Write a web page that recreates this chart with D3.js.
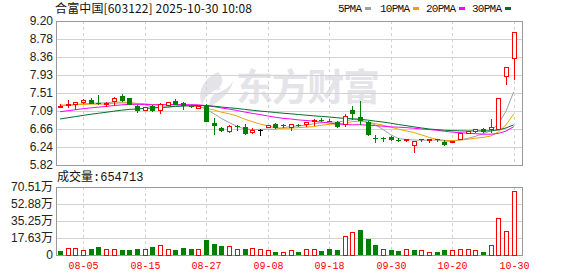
<!DOCTYPE html>
<html>
<head>
<meta charset="utf-8">
<script src="https://cdn.jsdelivr.net/npm/d3@7"></script>
<style>
  body { margin: 0; background: #fff; }
  svg { display: block; }
  .lab { font: 12px "Liberation Sans", Arial, sans-serif; fill: #222; }
  .mono { font-family: "Liberation Mono", "DejaVu Sans Mono", monospace; }
  .cjk { font-family: "Noto Sans CJK SC", sans-serif; }
</style>
</head>
<body>
<div id="chart"></div>
<script>
// trading days shown (07-31 .. 10-30)
const dates = ["07-31","08-01","08-04","08-05","08-06","08-07","08-08","08-11","08-12","08-13",
  "08-14","08-15","08-18","08-19","08-20","08-21","08-22","08-25","08-26","08-27",
  "08-28","08-29","09-01","09-02","09-03","09-04","09-05","09-08","09-09","09-10",
  "09-11","09-12","09-15","09-16","09-17","09-18","09-19","09-22","09-23","09-24",
  "09-25","09-26","09-29","09-30","10-09","10-10","10-13","10-14","10-15","10-16",
  "10-17","10-20","10-21","10-22","10-23","10-24","10-27","10-28","10-29","10-30"];

const opens  = [7.18,7.23,7.24,7.28,7.35,7.28,7.24,7.32,7.43,7.39,
  7.21,7.11,7.21,7.09,7.21,7.33,7.28,7.20,7.15,7.24,
  6.80,6.69,6.61,6.74,6.72,6.58,6.65,6.70,6.79,6.75,
  6.71,6.76,6.76,6.83,6.88,6.86,6.84,6.77,7.10,6.95,
  6.84,6.46,6.45,6.48,6.41,6.40,6.28,6.42,6.39,6.42,
  6.36,6.34,6.43,6.56,6.60,6.67,6.65,6.66,7.89,8.31];
const highs  = [7.26,7.34,7.31,7.38,7.39,7.46,7.30,7.41,7.48,7.40,
  7.22,7.19,7.22,7.28,7.29,7.36,7.29,7.21,7.19,7.25,
  6.92,6.72,6.76,6.76,6.79,6.70,6.66,6.76,6.80,6.79,
  6.77,6.78,6.83,6.89,6.93,6.91,6.85,7.02,7.21,7.32,
  6.86,6.52,6.48,6.49,6.45,6.44,6.38,6.44,6.43,6.43,
  6.40,6.38,6.57,6.61,6.66,6.68,6.91,7.37,8.11,8.92];
const lows   = [7.15,7.15,7.12,7.25,7.26,7.24,7.18,7.21,7.31,7.23,
  7.05,7.08,7.07,7.02,7.20,7.23,7.10,7.16,7.14,6.82,
  6.52,6.60,6.58,6.62,6.52,6.55,6.50,6.69,6.67,6.70,
  6.62,6.72,6.71,6.73,6.84,6.83,6.70,6.72,6.88,6.75,
  6.51,6.33,6.37,6.39,6.37,6.36,6.11,6.37,6.33,6.36,
  6.27,6.33,6.42,6.54,6.58,6.58,6.57,6.65,7.70,7.81];
const closes = [7.19,7.24,7.29,7.34,7.26,7.25,7.26,7.38,7.32,7.24,
  7.08,7.17,7.08,7.24,7.28,7.24,7.20,7.18,7.19,6.83,
  6.73,6.62,6.72,6.73,6.54,6.64,6.65,6.75,6.70,6.74,
  6.76,6.75,6.82,6.87,6.86,6.85,6.72,6.97,7.02,6.86,
  6.52,6.43,6.44,6.41,6.40,6.42,6.37,6.41,6.42,6.41,
  6.28,6.37,6.56,6.60,6.65,6.59,6.70,7.37,8.11,8.92];

// volume, in 万
const volumes = [4.4,7.2,6.5,4.2,6.5,8.6,5.2,6.2,5.5,5.5,
  6.3,5.2,8.6,10.3,5.2,5.5,7.5,6.5,5.2,15.8,
  11.7,9.6,8.3,5.2,6.5,7.0,6.0,4.2,3.4,3.1,
  4.2,3.4,5.2,6.2,4.4,6.5,5.5,18.9,23.7,26.1,
  16.8,10.6,6.2,5.5,4.4,5.2,5.5,4.2,3.1,3.4,
  5.5,4.2,6.2,5.2,4.2,3.4,9.6,37.5,24.1,65.47];

// closes of the 29 sessions before 07-31, only used to warm up the moving averages
const priorCloses = [6.40,6.45,6.48,6.50,6.52,6.58,6.60,6.63,6.69,6.75,
  6.78,6.82,6.85,6.88,6.90,6.93,6.96,7.00,7.02,7.06,
  7.20,7.25,7.22,7.18,7.25,7.24,7.20,7.26,7.22];

const priceTicks = ["9.20","8.78","8.36","7.93","7.51","7.09","6.66","6.24","5.82"];
const volTicks   = ["70.51","52.88","35.25","17.63","0"];
const dateTicks  = ["08-05","08-15","08-27","09-08","09-18","09-30","10-20","10-30"];
const maPeriods  = [5, 10, 20, 30];
const maColors   = ["#a0a0a0", "#f0a000", "#ff00ff", "#006e2e"];

const title = "合富中国[603122] 2025-10-30 10:08";
const lastVolume = "654713";

const W = 578, H = 276;
const left = 56, right = 522;
const pTop = 21, pBot = 165, vTop = 187, vBot = 255;
const UP = "#ff0000", DOWN = "#008000";

const svg = d3.select("#chart").append("svg").attr("width", W).attr("height", H);

const x = d3.scalePoint().domain(dates).range([60, 513.7]);
const y = d3.scaleLinear().domain([5.82, 9.20]).range([pBot, pTop]);
const yv = d3.scaleLinear().domain([0, 70.51]).range([vBot, vTop]);
const px = d => Math.round(x(d));

// watermark
const wm = svg.append("g").attr("fill", "#e4e4e8");
wm.append("path")
  .attr("d", "M218,72 C203,79 197,92 202,105 C205,96 212,90 222,88 C212,94 208,100 210,107 C221,100 231,92 233,81 C229,88 222,92 214,94 C222,86 226,79 218,72 Z");
wm.append("text").attr("class", "cjk")
  .attr("x", 236).attr("y", 101)
  .style("font-size", "37px").style("font-weight", "bold")
  .attr("textLength", 144).text("东方财富");

// grids
const grid = svg.append("g").attr("stroke", "#d2d2d2").attr("shape-rendering", "crispEdges");
grid.selectAll("line.hp").data(priceTicks.slice(1, -1)).join("line")
  .attr("x1", left).attr("x2", right)
  .attr("y1", d => Math.round(y(+d)) + 0.5).attr("y2", d => Math.round(y(+d)) + 0.5);
grid.selectAll("line.hv").data(volTicks.slice(1, -1)).join("line")
  .attr("x1", left).attr("x2", right)
  .attr("y1", d => Math.round(yv(+d)) + 0.5).attr("y2", d => Math.round(yv(+d)) + 0.5);
grid.selectAll("line.vp").data(dateTicks).join("line")
  .attr("stroke-dasharray", "3,3")
  .attr("x1", d => px(d) + 0.5).attr("x2", d => px(d) + 0.5)
  .attr("y1", pTop).attr("y2", pBot);
grid.selectAll("line.vv").data(dateTicks).join("line")
  .attr("stroke-dasharray", "3,3")
  .attr("x1", d => px(d) + 0.5).attr("x2", d => px(d) + 0.5)
  .attr("y1", vTop).attr("y2", vBot);

// frames
const frame = svg.append("g").attr("fill", "none").attr("stroke", "#999").attr("shape-rendering", "crispEdges");
frame.append("rect").attr("x", left + 0.5).attr("y", pTop + 0.5).attr("width", right - left).attr("height", pBot - pTop);
frame.append("rect").attr("x", left + 0.5).attr("y", vTop + 0.5).attr("width", right - left).attr("height", vBot - vTop);

// moving averages
const allCloses = priorCloses.concat(closes);
const off = priorCloses.length;
maPeriods.forEach((n, k) => {
  const vals = closes.map((c, i) => d3.mean(allCloses.slice(off + i - n + 1, off + i + 1)));
  svg.append("path")
    .attr("fill", "none").attr("stroke", maColors[k]).attr("stroke-width", 1)
    .attr("d", d3.line().x((d, i) => x(dates[i])).y(d => y(d))(vals));
});

// candles: colour by close vs open
const candleColor = i => closes[i] > opens[i] ? UP : closes[i] < opens[i] ? DOWN : "#000";
const candles = svg.append("g").attr("shape-rendering", "crispEdges")
  .selectAll("g").data(dates).join("g");
candles.append("line")
  .attr("x1", d => px(d) + 0.5).attr("x2", d => px(d) + 0.5)
  .attr("y1", (d, i) => y(highs[i])).attr("y2", (d, i) => y(lows[i]))
  .attr("stroke", (d, i) => candleColor(i));
candles.append("rect")
  .attr("x", (d, i) => closes[i] > opens[i] ? px(d) - 1.5 : px(d) - 2)
  .attr("y", (d, i) => y(Math.max(opens[i], closes[i])))
  .attr("width", (d, i) => closes[i] > opens[i] ? 4 : 5)
  .attr("height", (d, i) => Math.max(1, Math.abs(y(opens[i]) - y(closes[i]))))
  .attr("fill", (d, i) => closes[i] > opens[i] ? "#fff" : candleColor(i))
  .attr("stroke", (d, i) => closes[i] > opens[i] ? UP : "none");

// volume bars: colour by close vs previous close
const prevClose = i => i > 0 ? closes[i - 1] : priorCloses[priorCloses.length - 1];
const volUp = i => closes[i] >= prevClose(i);
svg.append("g").attr("shape-rendering", "crispEdges")
  .selectAll("rect").data(volumes).join("rect")
  .attr("x", (v, i) => volUp(i) ? px(dates[i]) - 1.5 : px(dates[i]) - 2)
  .attr("y", v => yv(v))
  .attr("width", (v, i) => volUp(i) ? 4 : 5)
  .attr("height", v => vBot - yv(v))
  .attr("fill", (v, i) => volUp(i) ? "#fff" : DOWN)
  .attr("stroke", (v, i) => volUp(i) ? UP : "none");

// axis labels
svg.append("g").selectAll("text").data(priceTicks).join("text")
  .attr("class", "lab").attr("text-anchor", "end")
  .attr("x", 53).attr("y", d => y(+d)).attr("dy", "0.35em").text(d => d);
const vl = svg.append("g").selectAll("text").data(volTicks).join("text")
  .attr("class", "lab").attr("text-anchor", "end")
  .attr("x", 53).attr("y", d => yv(+d)).attr("dy", "0.35em");
vl.append("tspan").text(d => d);
vl.filter(d => d !== "0").append("tspan").attr("class", "cjk").text("万");

svg.append("g").selectAll("text").data(dateTicks).join("text")
  .attr("class", "mono").style("font-size", "10px").attr("fill", "#f00")
  .attr("text-anchor", "middle")
  .attr("x", d => px(d) + 0.5).attr("y", 269).text(d => d);

// header
svg.append("text").attr("class", "cjk").attr("x", 55).attr("y", 13)
  .style("font-size", "12px").attr("fill", "#111")
  .attr("textLength", 197).text(title);

const legend = svg.append("g").selectAll("g").data(maPeriods).join("g")
  .attr("transform", (d, i) => `translate(${[338, 380, 426, 472][i]}, 0)`);
legend.append("text").attr("class", "mono").style("font-size", "11px").attr("fill", "#111")
  .attr("y", 12).attr("textLength", d => d < 10 ? 24 : 30).text(d => d + "PMA");
legend.append("rect").attr("x", d => d < 10 ? 27 : 33).attr("y", 7).attr("width", 6).attr("height", 3)
  .attr("fill", (d, i) => maColors[i]);

const vt = svg.append("text").attr("x", 57).attr("y", 181).style("font-size", "12px").attr("fill", "#111");
vt.append("tspan").attr("class", "cjk").text("成交量");
vt.append("tspan").attr("class", "mono").text(":" + lastVolume);
</script>
</body>
</html>
